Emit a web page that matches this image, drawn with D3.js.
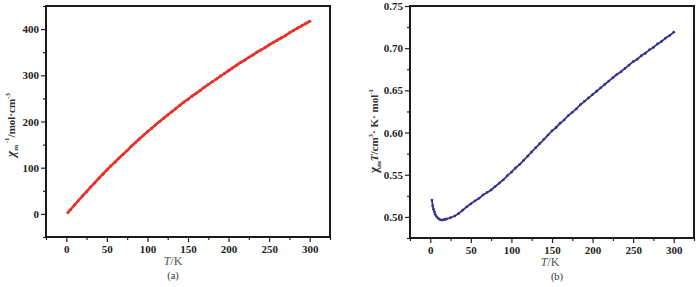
<!DOCTYPE html>
<html>
<head>
<meta charset="utf-8">
<script src="https://cdn.jsdelivr.net/npm/d3@7"></script>
<style>
  body { margin: 0; background: #fff; }
  svg { display: block; font-family: "Liberation Serif", "Times New Roman", serif; }
</style>
</head>
<body>
<svg width="700" height="287"></svg>
<script>
// panel (a): inverse susceptibility vs T
const tempA = [2, 5, 10, 15, 20, 25, 30, 35, 40, 45, 50, 55, 60, 65, 70, 75, 80, 85, 90, 95, 100,
  105, 110, 115, 120, 125, 130, 135, 140, 145, 150, 155, 160, 165, 170, 175, 180, 185, 190, 195, 200,
  205, 210, 215, 220, 225, 230, 235, 240, 245, 250, 255, 260, 265, 270, 275, 280, 285, 290, 295, 300];
const invChi = [3, 9, 19, 29, 39, 48, 58, 67, 77, 86, 95, 104, 112, 121, 129, 137, 146, 154, 162, 170, 178,
  185, 193, 200, 207, 214, 221, 228, 235, 242, 248, 255, 261, 267, 274, 280, 286, 292, 298, 304, 310,
  316, 322, 328, 333, 339, 344, 350, 355, 360, 366, 371, 376, 381, 386, 392, 397, 402, 407, 412, 417];

// panel (b): chi*T vs T
const tempB = [2, 3, 4, 5, 6, 8, 10, 12, 14, 16, 18, 20, 25, 30, 35, 40, 45, 50, 55, 60, 65, 70, 75, 80,
  85, 90, 95, 100, 105, 110, 115, 120, 125, 130, 135, 140, 145, 150, 155, 160, 165, 170, 175, 180, 185,
  190, 195, 200, 205, 210, 215, 220, 225, 230, 235, 240, 245, 250, 255, 260, 265, 270, 275, 280, 285,
  290, 295, 300];
const chiT = [0.520, 0.513, 0.509, 0.506, 0.503, 0.500, 0.498, 0.4968, 0.4963, 0.4965, 0.497, 0.4975,
  0.499, 0.501, 0.504, 0.508, 0.512, 0.5155, 0.519, 0.522, 0.526, 0.529, 0.532, 0.536, 0.540, 0.544,
  0.549, 0.553, 0.558, 0.562, 0.567, 0.572, 0.577, 0.582, 0.587, 0.592, 0.597, 0.602, 0.606, 0.611,
  0.615, 0.620, 0.624, 0.628, 0.633, 0.637, 0.641, 0.645, 0.649, 0.653, 0.657, 0.661, 0.665, 0.669,
  0.672, 0.676, 0.680, 0.684, 0.687, 0.691, 0.694, 0.698, 0.701, 0.705, 0.708, 0.712, 0.715, 0.719];

const xTicks = [0, 50, 100, 150, 200, 250, 300];
const xMinor = [-25, 25, 75, 125, 175, 225, 275, 325];
const yTicksA = [0, 100, 200, 300, 400];
const yMinorA = [-50, 50, 150, 250, 350, 450];
const yTicksB = [0.50, 0.55, 0.60, 0.65, 0.70, 0.75];
const yMinorB = [0.475, 0.525, 0.575, 0.625, 0.675, 0.725];

const svg = d3.select('svg');

function panel(opt) {
  const g = svg.append('g');
  const x = d3.scaleLinear().domain([-25, 325]).range([opt.left, opt.right]);
  const y = d3.scaleLinear().domain(opt.yDomain).range([opt.bottom, opt.top]);

  // minor ticks
  g.append('g').attr('transform', `translate(0,${opt.bottom})`)
    .call(d3.axisBottom(x).tickValues(xMinor).tickSize(3).tickFormat(''))
    .call(a => a.select('.domain').remove());
  g.append('g').attr('transform', `translate(${opt.left},0)`)
    .call(d3.axisLeft(y).tickValues(opt.yMinor).tickSize(3).tickFormat(''))
    .call(a => a.select('.domain').remove());

  // major ticks
  const xa = g.append('g').attr('transform', `translate(0,${opt.bottom})`)
    .call(d3.axisBottom(x).tickValues(xTicks).tickSize(5).tickPadding(3).tickFormat(d3.format('d')));
  const ya = g.append('g').attr('transform', `translate(${opt.left},0)`)
    .call(d3.axisLeft(y).tickValues(opt.yTicks).tickSize(5).tickPadding(2).tickFormat(opt.fmt));
  [xa, ya].forEach(a => {
    a.select('.domain').remove();
    a.selectAll('text').attr('font-size', 11).attr('font-weight', 'bold')
      .attr('font-family', '"Liberation Serif", serif').attr('fill', '#222');
  });
  g.selectAll('.tick line').attr('stroke', '#222').attr('stroke-width', 1.2);

  // frame
  g.append('rect')
    .attr('x', opt.left).attr('y', opt.top)
    .attr('width', opt.right - opt.left).attr('height', opt.bottom - opt.top)
    .attr('fill', 'none').attr('stroke', '#1a1a1a').attr('stroke-width', 2);

  const pts = opt.xs.map((t, i) => [t, opt.ys[i]]);
  g.append('path')
    .datum(pts)
    .attr('fill', 'none')
    .attr('stroke', opt.color)
    .attr('stroke-width', opt.lw)
    .attr('d', d3.line().x(d => x(d[0])).y(d => y(d[1])));
  g.selectAll('circle.pt')
    .data(pts)
    .enter().append('circle')
    .attr('cx', d => x(d[0]))
    .attr('cy', d => y(d[1]))
    .attr('r', opt.r)
    .attr('fill', opt.color);

  // x label
  const xl = g.append('text')
    .attr('x', opt.xlabX).attr('y', opt.xlabY)
    .attr('text-anchor', 'middle').attr('font-size', 12).attr('fill', '#555');
  xl.append('tspan').attr('font-style', 'italic').text('T');
  xl.append('tspan').text('/K');
  g.append('text')
    .attr('x', opt.capX).attr('y', opt.capY)
    .attr('text-anchor', 'middle').attr('font-size', 10.5).attr('fill', '#333')
    .text(opt.caption);
  return { x, y };
}

panel({
  left: 46, right: 330, top: 6, bottom: 237,
  yDomain: [-50, 450], yTicks: yTicksA, yMinor: yMinorA, fmt: d3.format('d'),
  xs: tempA, ys: invChi, color: '#e8312b', lw: 2.6, r: 1.6,
  xlabX: 173, xlabY: 265, capX: 173, capY: 279, caption: '(a)'
});

panel({
  left: 410, right: 694, top: 6, bottom: 238,
  yDomain: [0.475, 0.75], yTicks: yTicksB, yMinor: yMinorB, fmt: d3.format('.2f'),
  xs: tempB, ys: chiT, color: '#34358a', lw: 1.8, r: 1.4,
  xlabX: 550, xlabY: 266, capX: 557, capY: 280, caption: '(b)'
});

// y axis labels
const yl1 = svg.append('text')
  .attr('transform', 'translate(15,125) rotate(-90)')
  .attr('text-anchor', 'middle').attr('font-size', 11).attr('font-weight', 'bold').attr('fill', '#333');
yl1.append('tspan').attr('font-style', 'italic').attr('font-size', 13).text('χ');
yl1.append('tspan').attr('font-size', 7).attr('dy', 3).text('m');
yl1.append('tspan').attr('font-size', 7).attr('dy', -9).text(' -1');
yl1.append('tspan').attr('dy', 6).text('/mol·cm');
yl1.append('tspan').attr('font-size', 7).attr('dy', -5).text('-3');

const yl2 = svg.append('text')
  .attr('transform', 'translate(378,131) rotate(-90)')
  .attr('text-anchor', 'middle').attr('font-size', 11).attr('font-weight', 'bold').attr('fill', '#333');
yl2.append('tspan').attr('font-size', 13).text('χ');
yl2.append('tspan').attr('font-size', 7).attr('dy', 3).text('m');
yl2.append('tspan').attr('font-style', 'italic').attr('dy', -3).text('T');
yl2.append('tspan').text('/cm');
yl2.append('tspan').attr('font-size', 7).attr('dy', -5).text('3');
yl2.append('tspan').attr('dy', 5).text('· K· mol');
yl2.append('tspan').attr('font-size', 7).attr('dy', -5).text('-1');
</script>
</body>
</html>
